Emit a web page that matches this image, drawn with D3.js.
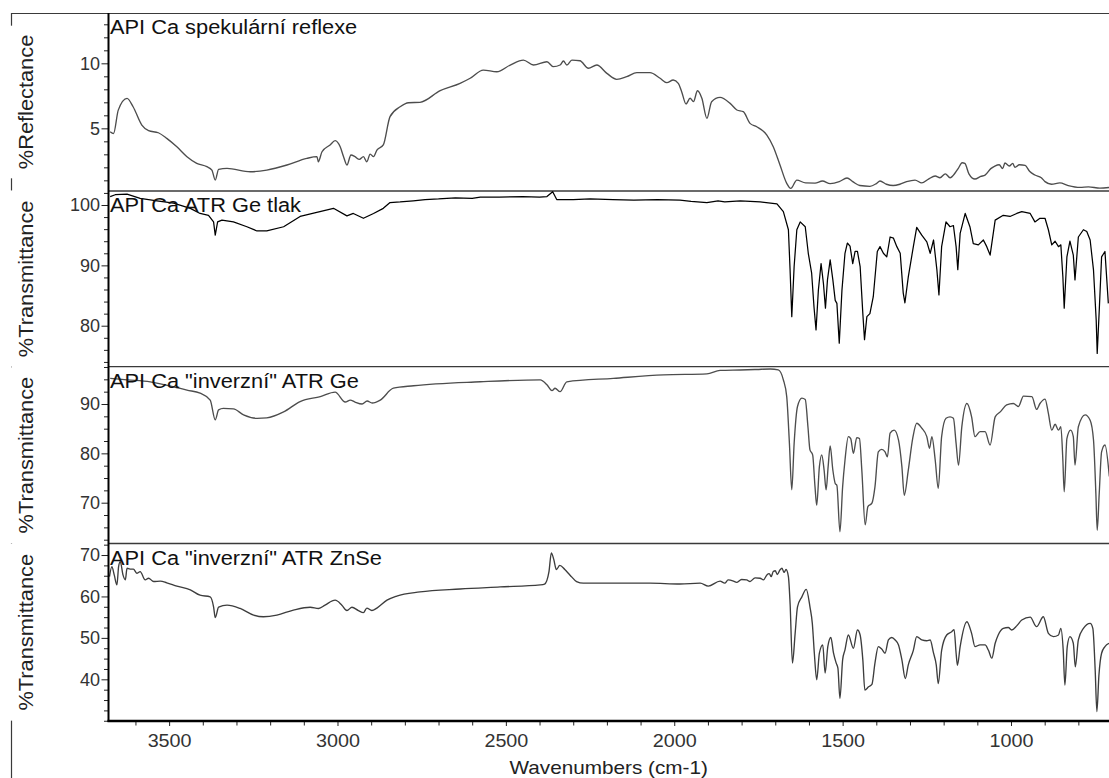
<!DOCTYPE html>
<html>
<head>
<meta charset="utf-8">
<script src="https://cdn.jsdelivr.net/npm/d3@7"></script>
<style>
  html, body { margin: 0; padding: 0; background: #fff; }
  svg { display: block; font-family: "Liberation Sans", Arial, sans-serif; }
</style>
</head>
<body>
<svg id="chart" width="1109" height="778"></svg>
<script>
// Spectra: [wavenumber (cm-1), value]
const reflexe = [
  [3675,4.74],[3665,4.6],[3651,6.4],[3625,7.3],[3607,6.66],[3581,5.25],[3561,4.82],[3532,4.66],
  [3507,4.23],[3477,3.58],[3447,2.82],[3418,2.31],[3388,2.05],[3373,1.79],[3363,1.02],[3353,1.85],
  [3328,1.92],[3259,1.66],[3210,1.79],[3150,2.18],[3091,2.69],[3061,2.82],[3057,2.43],[3046,3.2],
  [3022,3.72],[3007,4.05],[2992,3.58],[2982,2.82],[2972,2.18],[2960,2.95],[2948,2.82],[2935,2.61],
  [2923,2.82],[2913,2.43],[2903,3.02],[2893,2.82],[2883,3.33],[2864,3.72],[2844,5.9],[2814,6.66],
  [2789,6.97],[2755,7.0],[2695,7.9],[2636,8.46],[2606,8.85],[2567,9.48],[2527,9.35],[2487,9.87],
  [2448,10.25],[2418,9.87],[2378,10.12],[2359,9.74],[2339,9.87],[2329,10.18],[2319,9.87],[2304,10.25],
  [2280,10.2],[2255,9.62],[2230,9.87],[2200,9.23],[2171,8.77],[2141,8.97],[2111,9.28],[2072,9.28],
  [2042,8.85],[2022,8.51],[2003,8.72],[1988,8.46],[1978,7.82],[1965,6.87],[1953,7.31],[1943,7.05],
  [1931,7.89],[1918,7.31],[1903,5.77],[1889,7.05],[1864,7.38],[1834,6.92],[1814,6.41],[1795,6.28],
  [1775,5.38],[1755,5.12],[1725,4.48],[1706,3.58],[1686,2.18],[1666,0.77],[1654,0.38],[1636,1.02],
  [1610,0.8],[1582,0.79],[1560,0.95],[1537,0.75],[1510,0.9],[1487,1.18],[1470,0.9],[1449,0.6],
  [1419,0.54],[1400,0.75],[1389,0.95],[1370,0.7],[1350,0.6],[1330,0.7],[1310,0.9],[1285,1.02],
  [1265,0.8],[1245,1.1],[1225,1.33],[1211,1.2],[1195,1.5],[1181,1.2],[1165,1.6],[1157,1.9],
  [1145,2.35],[1137,2.3],[1125,1.5],[1107,1.1],[1090,1.3],[1077,1.4],[1060,1.9],[1048,2.1],
  [1035,2.2],[1025,1.9],[1018,2.33],[1005,2.1],[995,2.3],[988,2.0],[975,2.2],[958,2.15],
  [945,1.7],[929,1.41],[910,1.2],[899,0.9],[880,0.7],[855,0.8],[830,0.6],[795,0.46],
  [770,0.5],[736,0.4],[709,0.45]
];

const atrGeTlak = [
  [3675,101.4],[3660,101.7],[3625,101.8],[3586,101.1],[3536,100.7],[3487,100.3],[3437,99.45],[3408,98.6],
  [3383,98.3],[3368,97.2],[3363,95.0],[3356,97.2],[3343,97.5],[3309,97.2],[3269,96.4],[3239,95.7],
  [3210,95.7],[3160,96.4],[3111,98.1],[3012,99.45],[2972,98.2],[2953,98.6],[2923,97.8],[2893,98.6],
  [2864,99.45],[2844,100.4],[2814,100.5],[2775,100.7],[2740,100.9],[2700,101.0],[2650,101.2],[2600,101.1],
  [2576,101.3],[2520,101.3],[2450,101.4],[2400,101.3],[2378,101.4],[2361,102.2],[2349,100.9],[2300,100.9],
  [2250,101.0],[2182,100.9],[2120,100.8],[2050,100.9],[1983,100.8],[1950,100.6],[1903,100.4],[1870,100.7],
  [1850,100.5],[1804,100.7],[1745,100.5],[1695,100.2],[1676,98.9],[1661,95.9],[1656,89.2],[1651,81.5],
  [1644,89.8],[1636,95.9],[1626,97.2],[1611,96.4],[1602,92],[1592,88.7],[1585,83.1],[1579,79.3],
  [1572,85.9],[1564,90.3],[1557,87],[1551,82.9],[1545,87.6],[1537,90.9],[1529,87.6],[1522,84.2],
  [1517,83.7],[1510,77.1],[1502,85.9],[1493,92],[1486,93.7],[1478,93.2],[1470,90.3],[1463,92.3],
  [1456,92.3],[1448,89.8],[1440,82],[1435,77.7],[1428,81.5],[1419,82],[1409,84.8],[1397,92.3],
  [1389,93.1],[1379,92],[1369,91.4],[1359,94.7],[1349,94.5],[1339,93.1],[1329,92],[1320,85.4],
  [1315,83.8],[1305,88.1],[1290,93.1],[1280,96.3],[1265,95],[1250,93.9],[1240,92],[1230,94.2],
  [1220,89.2],[1214,85.1],[1206,93.1],[1193,97.2],[1181,96.4],[1171,96.6],[1163,93.1],[1158,89.3],
  [1151,95.3],[1136,98.6],[1122,96.4],[1112,93.6],[1097,93.4],[1082,94.2],[1072,93.1],[1062,91.7],
  [1047,97.5],[1023,98.3],[1003,98.1],[983,98.6],[968,98.9],[943,98.6],[929,97.2],[914,97.8],
  [899,97.8],[889,95.9],[879,93.4],[869,94],[859,93.1],[852,93.4],[846,88.1],[842,82.9],
  [834,91.4],[825,94],[815,91.7],[810,87.6],[800,94.7],[785,95.9],[775,95.6],[765,94.2],
  [755,89.2],[747,80.9],[744,75.4],[738,82.5],[731,91.4],[721,92.3],[711,83.7]
];

const inverzniGe = [
  [3675,95.2],[3625,94.9],[3556,94.5],[3487,93.5],[3447,92.8],[3408,92.2],[3378,90.8],[3363,86.8],
  [3353,88.8],[3339,89.1],[3309,89.0],[3279,87.8],[3239,87.1],[3210,87.2],[3160,88.4],[3111,90.5],
  [3051,91.5],[3007,92.4],[2977,90.4],[2962,90.8],[2948,90.4],[2927,90.0],[2912,90.6],[2897,90.2],
  [2873,90.8],[2834,93.2],[2774,93.7],[2576,94.5],[2398,94.9],[2378,93.9],[2363,92.7],[2354,93.2],
  [2339,92.5],[2319,94.5],[2181,95.2],[2032,95.9],[1903,96.1],[1864,96.8],[1804,96.9],[1755,97.0],
  [1715,97.1],[1691,96.9],[1676,94.9],[1666,91.5],[1658,82],[1651,72.6],[1644,82],[1634,89.5],
  [1621,91.2],[1611,90.9],[1603,85.4],[1597,80.7],[1589,79.7],[1582,73.2],[1577,69.5],[1569,77.3],
  [1562,79.7],[1555,76.6],[1549,72.6],[1543,77.3],[1537,81.5],[1529,76.6],[1522,73.9],[1517,73.5],
  [1508,64.1],[1500,73.2],[1493,78.6],[1483,83.4],[1476,83],[1468,80],[1458,83.2],[1450,83],
  [1443,76.6],[1433,65.5],[1425,69.2],[1413,69.9],[1404,73.2],[1394,80.3],[1384,80.8],[1374,80.3],
  [1367,79.3],[1359,84.1],[1347,84.7],[1334,82.7],[1324,77.3],[1317,71.5],[1305,76.6],[1292,83],
  [1280,86.1],[1265,85.1],[1250,83.4],[1242,81],[1235,83.4],[1225,78.6],[1216,72.9],[1206,83.4],
  [1193,87.1],[1181,87.4],[1171,87.1],[1163,82],[1156,77.6],[1146,85.4],[1131,90.1],[1117,87.4],
  [1107,83.4],[1092,84.4],[1077,84.4],[1062,81.7],[1047,87.4],[1032,88.4],[1013,89.8],[993,90.1],
  [978,89.5],[963,91.6],[938,91.5],[924,88.9],[914,90.1],[899,91],[889,88.1],[879,84.7],
  [869,85.9],[859,84.7],[852,85.4],[846,78.6],[842,72.2],[834,83],[823,84.7],[815,83.4],
  [810,77.6],[800,85.4],[780,87.8],[765,86.7],[755,82.7],[748,71.9],[744,64.4],[738,71.9],
  [731,80.3],[721,81.7],[708,75.3]
];

const inverzniZnSe = [
  [3677,64.8],[3670,67.2],[3663,65.2],[3655,62.8],[3650,67.2],[3645,68.4],[3637,65.2],[3630,64.0],
  [3625,66.8],[3616,66.6],[3606,66.6],[3596,65.6],[3586,66.0],[3571,64.0],[3561,64.4],[3546,63.6],
  [3526,63.7],[3507,63.3],[3477,62.5],[3437,61.6],[3408,60.3],[3378,59.9],[3368,57.5],[3363,54.9],
  [3353,57.4],[3328,57.9],[3289,57.1],[3249,55.5],[3220,55.1],[3180,55.5],[3131,56.7],[3081,57.4],
  [3056,57.1],[3037,57.9],[3007,59.1],[2987,57.9],[2972,56.6],[2957,57.4],[2938,56.6],[2923,56.1],
  [2913,57.2],[2898,56.6],[2883,57.2],[2853,59.1],[2824,60.1],[2755,61.1],[2636,61.8],[2517,62.3],
  [2398,62.8],[2385,63.0],[2372,66.0],[2365,70.5],[2358,69.0],[2350,66.5],[2340,67.5],[2325,66.5],
  [2310,65.2],[2290,63.6],[2270,63.2],[2220,63.2],[2072,63.2],[1983,63.0],[1923,63.2],[1899,62.5],
  [1864,63.7],[1850,63.2],[1840,64.0],[1824,63.7],[1815,63.4],[1800,64.1],[1785,64.0],[1775,63.6],
  [1760,64.5],[1745,64.4],[1735,64.0],[1725,65.2],[1718,65.5],[1712,64.8],[1706,66.0],[1700,66.2],
  [1694,65.3],[1686,66.4],[1680,66.8],[1674,65.8],[1668,66.5],[1661,64.8],[1656,58.3],[1649,43.9],
  [1641,51.1],[1634,57.5],[1621,59.9],[1608,61.7],[1597,57.5],[1590,53.5],[1584,46.3],[1577,39.9],
  [1569,46.3],[1559,48.3],[1552,41.5],[1544,47.9],[1535,50.1],[1527,46.3],[1519,43.9],[1514,42.7],
  [1508,35.4],[1500,44.7],[1493,47.1],[1483,50.7],[1468,47.5],[1456,51.9],[1448,50.7],[1440,44.7],
  [1434,37.4],[1423,38.2],[1413,38.8],[1404,43.9],[1394,47.9],[1384,47.3],[1374,46.3],[1364,49.5],
  [1354,50.1],[1344,49.5],[1334,48.3],[1324,44.7],[1314,40.2],[1305,43.5],[1290,47.0],[1280,50.3],
  [1265,49.5],[1250,49.3],[1240,49.5],[1230,46.3],[1222,43.5],[1216,39.0],[1206,47.0],[1191,50.7],
  [1176,51.5],[1169,52.0],[1163,46.3],[1159,43.4],[1151,47.9],[1131,53.9],[1117,51.1],[1107,47.9],
  [1092,48.3],[1077,48.3],[1067,47.0],[1057,45.1],[1047,48.7],[1038,50.7],[1023,52.3],[1008,52.5],
  [998,51.9],[983,52.9],[968,54.3],[943,55.0],[924,52.7],[904,55.1],[889,51.1],[874,50.3],
  [859,50.7],[852,52.3],[845,47.1],[840,38.6],[833,47.9],[825,50.3],[815,48.7],[809,43.0],
  [800,49.5],[785,52.3],[765,53.5],[757,52.3],[750,42.2],[745,32.2],[739,40.9],[731,46.3],
  [721,47.9],[709,48.7]
];

// Panel titles, axis labels and tick values
const titles = ["API Ca spekulární reflexe", "API Ca ATR Ge tlak", "API Ca \"inverzní\" ATR Ge", "API Ca \"inverzní\" ATR ZnSe"];
const yLabels = ["%Reflectance", "%Transmittance", "%Transmittance", "%Transmittance"];
const yDomains = [[0.18, 13.87], [73.21, 102.32], [61.73, 97.56], [29.94, 72.78]];
const yMajorTicks = [[5, 10], [80, 90, 100], [70, 80, 90], [40, 50, 60, 70]];
const yMinorSteps = [1, 2, 2.5, 2.5];
const xDomain = [3680, 709];
const xMajorTicks = [3500, 3000, 2500, 2000, 1500, 1000];
const xTitle = "Wavenumbers (cm-1)";

const series = [reflexe, atrGeTlak, inverzniGe, inverzniZnSe];
const lineColors = ["#4d4d4d", "#000000", "#4d4d4d", "#3d3d3d"];

// Layout
const svg = d3.select("#chart");
const left = 108.5, right = 1109;
const bands = [[13, 191], [191, 366.7], [366.7, 543.5], [543.5, 721]];
const bottom = 721;
const stretch = 1.09;

const x = d3.scaleLinear().domain(xDomain).range([left, right]);

function widen(sel, k) {
  sel.each(function () {
    const len = this.getComputedTextLength();
    d3.select(this).attr("textLength", len * k).attr("lengthAdjust", "spacingAndGlyphs");
  });
}

// Frame: top rule
svg.append("line").attr("x1", 11.5).attr("x2", right).attr("y1", 13.5).attr("y2", 13.5)
  .attr("stroke", "#3a3a3a").attr("stroke-width", 1.2);

// Panel separators
bands.slice(1).forEach(b => {
  svg.append("line").attr("x1", left).attr("x2", right).attr("y1", b[0]).attr("y2", b[0])
    .attr("stroke", "#3a3a3a").attr("stroke-width", 1.3);
});

const labelExtents = [];

bands.forEach((band, i) => {
  const y = d3.scaleLinear().domain(yDomains[i]).range([band[1], band[0]]);
  const g = svg.append("g");

  const clipId = "clip" + i;
  svg.append("clipPath").attr("id", clipId).append("rect")
    .attr("x", left).attr("y", band[0]).attr("width", right - left).attr("height", band[1] - band[0]);

  // spectrum trace
  const line = d3.line().x(d => x(d[0])).y(d => y(d[1]))
    .curve(i === 1 ? d3.curveLinear : d3.curveMonotoneX);
  g.append("path").datum(series[i])
    .attr("clip-path", `url(#${clipId})`)
    .attr("fill", "none").attr("stroke", lineColors[i])
    .attr("stroke-width", i === 1 ? 1.25 : 1.35)
    .attr("stroke-linejoin", "round")
    .attr("d", line);

  // minor ticks
  const [d0, d1] = yDomains[i];
  const step = yMinorSteps[i];
  const minor = d3.range(Math.ceil(d0 / step) * step, d1 + 1e-9, step)
    .filter(v => !yMajorTicks[i].some(m => Math.abs(m - v) < 1e-6));
  const minorAxis = g.append("g").attr("transform", `translate(${left},0)`)
    .call(d3.axisLeft(y).tickValues(minor).tickSize(4.5).tickFormat(""));
  minorAxis.select(".domain").remove();
  minorAxis.selectAll("line").attr("stroke", "#222");

  // major ticks with labels
  const majorAxis = g.append("g").attr("transform", `translate(${left},0)`)
    .call(d3.axisLeft(y).tickValues(yMajorTicks[i]).tickSize(7).tickPadding(1.5).tickFormat(d3.format("d")));
  majorAxis.select(".domain").remove();
  majorAxis.selectAll("line").attr("stroke", "#222");
  majorAxis.selectAll("text").attr("font-size", 18).attr("fill", "#333")
    .attr("font-family", "'Liberation Sans', Arial, sans-serif");

  // panel title
  const t = g.append("text").attr("x", 110).attr("y", band[0] + 21)
    .attr("font-size", 20).attr("fill", "#111").text(titles[i]);
  widen(t, stretch);

  // rotated axis label
  const cy = (band[0] + band[1]) / 2;
  const lab = svg.append("text")
    .attr("transform", `translate(33,${cy}) rotate(-90)`)
    .attr("text-anchor", "middle").attr("font-size", 20).attr("fill", "#222")
    .text(yLabels[i]);
  widen(lab, stretch);
  const half = lab.node().getComputedTextLength() * stretch / 2;
  labelExtents.push([cy - half - 3, cy + half + 3]);
});

// Left bracket line broken around the axis labels
let yStart = 13;
labelExtents.forEach(([a, b]) => {
  svg.append("line").attr("x1", 11.5).attr("x2", 11.5).attr("y1", yStart).attr("y2", a)
    .attr("stroke", "#3a3a3a").attr("stroke-width", 1.2);
  yStart = b;
});
svg.append("line").attr("x1", 11.5).attr("x2", 11.5).attr("y1", yStart).attr("y2", 778)
  .attr("stroke", "#3a3a3a").attr("stroke-width", 1.2);

// Y axis spine
svg.append("line").attr("x1", left).attr("x2", left).attr("y1", 13).attr("y2", bottom + 1)
  .attr("stroke", "#000").attr("stroke-width", 2);

// X axis
const xMinor = d3.range(800, 3700, 100).filter(v => !xMajorTicks.includes(v));
const xMinorAxis = svg.append("g").attr("transform", `translate(0,${bottom})`)
  .call(d3.axisBottom(x).tickValues(xMinor).tickSize(4.5).tickFormat(""));
xMinorAxis.select(".domain").remove();
xMinorAxis.selectAll("line").attr("stroke", "#222");

const xAxis = svg.append("g").attr("transform", `translate(0,${bottom})`)
  .call(d3.axisBottom(x).tickValues(xMajorTicks).tickSize(5).tickPadding(7.5).tickFormat(d3.format("d")));
xAxis.select(".domain").remove();
xAxis.selectAll("line").attr("stroke", "#222");
xAxis.selectAll("text").attr("font-size", 19).attr("fill", "#333")
  .attr("font-family", "'Liberation Sans', Arial, sans-serif");
widen(xAxis.selectAll("text"), 1.04);

svg.append("line").attr("x1", left - 1).attr("x2", right).attr("y1", bottom).attr("y2", bottom)
  .attr("stroke", "#000").attr("stroke-width", 2.6);

const xt = svg.append("text").attr("x", (left + right) / 2).attr("y", 774)
  .attr("text-anchor", "middle").attr("font-size", 19).attr("fill", "#222").text(xTitle);
widen(xt, stretch);
</script>
</body>
</html>
